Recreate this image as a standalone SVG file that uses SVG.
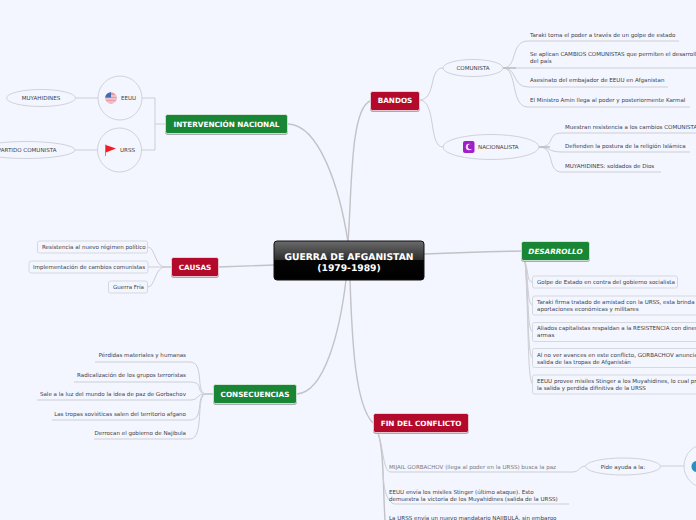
<svg xmlns="http://www.w3.org/2000/svg" width="696" height="520" viewBox="0 0 696 520">
<style>
text{font-family:"DejaVu Sans",Verdana,sans-serif;fill:#3c3c46;font-size:5.55px;text-rendering:geometricPrecision}
.t{font-weight:bold;fill:#fff;font-size:7.25px;text-anchor:middle}
.c{fill:none;stroke:#cdcdd3;stroke-width:1}
.m{fill:none;stroke:#c2c2c7;stroke-width:1.4}
.s{filter:drop-shadow(0 1px .6px #a0a0ac)}
.red{fill:#b30a2c;stroke:#f3e4e8;stroke-width:.8}
.grn{fill:#188635;stroke:#e4f1e7;stroke-width:.8}
.b{fill:#f3f6ff;stroke:#d6d8df;stroke-width:1}
.e{fill:#f3f6ff;stroke:#d0d2d9;stroke-width:1}
.e2{text-anchor:end}
</style>
<defs>
<linearGradient id="g" x1="0" y1="0" x2="0" y2="1"><stop offset="0" stop-color="#6b6b6b"/><stop offset=".5" stop-color="#2b2b2b"/><stop offset=".5" stop-color="#050505"/><stop offset="1" stop-color="#000"/></linearGradient>
</defs>
<rect width="696" height="520" fill="#f3f6ff"/>
<g id="connectors">
<path class="m" d="M348 242C340 190 320 125 288 124"/>
<path class="m" d="M348 242C352 190 350 110 370 101"/>
<path class="m" d="M274 265Q245 266 218 267"/>
<path class="m" d="M424 254Q470 252 521 251"/>
<path class="m" d="M346 280C340 330 325 392 297 394"/>
<path class="m" d="M350 280C352 340 355 405 373 423"/>
<path class="c" d="M419 100C437 100 428 68 443 68"/>
<path class="c" d="M419 100C437 100 428 147 443 147"/>
<path class="c" d="M503 68C518 68 510 41 528 41H679"/>
<path class="c" d="M503 68H696"/>
<path class="c" d="M503 68C518 68 512 87 528 87H668"/>
<path class="c" d="M503 68C518 68 510 107 528 107H690"/>
<path class="c" d="M539 147C556 147 546 133 562 133H696"/>
<path class="c" d="M539 147C550 147 548 152 562 152H690"/>
<path class="c" d="M539 147C556 147 546 172 562 172H661"/>
<path d="M503 68H516M539 147H550" stroke="#bdbdc2" stroke-width="1.5" fill="none"/>
<path class="c" d="M165 124H155V98H142M155 124V150H141"/>
<path class="c" d="M98 98H75M97 150H74"/>
<path class="c" d="M171 267H165C155 267 155 247 148 247"/>
<path class="c" d="M171 267H148"/>
<path class="c" d="M171 267H165C155 267 155 287 148 287"/>
<path class="c" d="M213 394H206C195 394 205 362 190 362H95"/>
<path class="c" d="M213 394H206C195 394 205 382 190 382H74"/>
<path class="c" d="M213 394H206C195 394 200 400 190 400H37"/>
<path class="c" d="M213 394H206C195 394 205 420 190 420H52"/>
<path class="c" d="M213 394H206C195 394 205 439 190 439H94"/>
<path class="c" d="M525 261C529 275 527 282 533 282"/>
<path class="c" d="M525 261C529 285 527 305 533 305"/>
<path class="c" d="M525 261C529 295 527 332 533 332"/>
<path class="c" d="M525 261C529 305 527 358 533 358"/>
<path class="c" d="M525 261C529 315 527 384 533 384"/>
<path class="m" d="M378 433C384 450 383 490 385 520"/>
<path class="c" d="M378 433C384 450 383 472 391 472H572C580 472 578 467 585 466"/>
<path class="c" d="M383 470C383 495 390 504 395 504H569"/>
<path class="c" d="M660 466H684"/>
</g>
<g id="root"><rect x="274" y="241" width="150" height="39" rx="3" fill="url(#g)" stroke="#111"/><text class="t" x="349" y="259.500" style="font-size:9.2px">GUERRA DE AFGANISTAN</text><text class="t" x="349" y="270.500" style="font-size:9.2px">(1979-1989)</text></g>
<g id="n-bandos"><rect class="red s" x="370.500" y="91.500" width="49" height="19" rx="2"/><text class="t" x="395" y="103">BANDOS</text></g>
<g id="n-intervencion"><rect class="grn s" x="165.500" y="114.500" width="122" height="19" rx="2"/><text class="t" x="226.500" y="127">INTERVENCIÓN NACIONAL</text></g>
<g id="n-causas"><rect class="red s" x="171.500" y="257.500" width="47" height="19" rx="2"/><text class="t" x="195" y="270">CAUSAS</text></g>
<g id="n-consecuencias"><rect class="grn s" x="213.500" y="384.500" width="83" height="19" rx="2"/><text class="t" x="255" y="397">CONSECUENCIAS</text></g>
<g id="n-desarrollo"><rect class="grn s" x="521.500" y="241.500" width="68" height="19" rx="2"/><text class="t" x="555.500" y="253.500" style="font-style:italic">DESARROLLO</text></g>
<g id="n-fin"><rect class="red s" x="373.500" y="413.500" width="95" height="19" rx="2"/><text class="t" x="421" y="425.500">FIN DEL CONFLICTO</text></g>
<g id="n-comunista"><ellipse class="e" cx="473" cy="68" rx="30" ry="8.500"/><text x="473" y="70" text-anchor="middle">COMUNISTA</text></g>
<g id="n-nacionalista"><ellipse class="e" cx="491" cy="147" rx="48" ry="12.500"/><rect x="463" y="141" width="11.500" height="12" rx="2" fill="#a020c8"/><circle cx="469" cy="147" r="3.200" fill="#f3e0fa"/><circle cx="470.500" cy="146.500" r="2.600" fill="#a020c8"/><text x="478" y="149">NACIONALISTA</text></g>
<g id="n-eeuu"><circle class="e" cx="120" cy="98" r="22"/><circle cx="111" cy="98" r="5.800" fill="#e59aa5"/><path d="M105.500 96h11M105.500 99h11M106 102h10" stroke="#f6e6ea" stroke-width="1"/><path d="M111 92.200a5.800 5.800 0 0 0-5.800 5.300h5.800z" fill="#3f6bb0"/><text x="121" y="100">EEUU</text></g>
<g id="n-urss"><circle class="e" cx="119.500" cy="150" r="22"/><path d="M105.500 144.500V156" stroke="#b98a8a"/><path d="M105.800 145L116 148.500 105.800 152.500z" fill="#ef1c24"/><text x="120" y="152">URSS</text></g>
<g id="n-muyahidines"><ellipse class="e" cx="41" cy="98" rx="34.500" ry="8.500"/><text x="41" y="100" text-anchor="middle">MUYAHIDINES</text></g>
<g id="n-partido"><ellipse class="e" cx="26" cy="150" rx="49" ry="8.500"/><text x="56.500" y="152" class="e2">PARTIDO COMUNISTA</text></g>
<g id="b-bandos1"><text x="530" y="37">Taraki toma el poder a través de un golpe de estado</text></g>
<g id="b-bandos2"><text x="530" y="56">Se aplican CAMBIOS COMUNISTAS que permiten el desarrollo</text><text x="530" y="63">del país</text></g>
<g id="b-bandos3"><text x="530" y="82">Asesinato del embajador de EEUU en Afganistan</text></g>
<g id="b-bandos4"><text x="530" y="102">El Ministro Amin llega al poder y posteriormente Karmal</text></g>
<g id="b-nac1"><text x="565" y="129">Muestran resistencia a los cambios COMUNISTAS</text></g>
<g id="b-nac2"><text x="565" y="148">Defienden la postura de la religión Islámica</text></g>
<g id="b-nac3"><text x="565" y="168">MUYAHIDINES: soldados de Dios</text></g>
<g id="b-causa1"><rect class="b" x="37.500" y="241" width="110" height="12" rx="2"/><text x="42" y="249">Resistencia al nuevo régimen político</text></g>
<g id="b-causa2"><rect class="b" x="29" y="261" width="119" height="12" rx="2"/><text x="33" y="269">Implementación de cambios comunistas</text></g>
<g id="b-causa3"><rect class="b" x="108.500" y="281" width="39" height="12" rx="2"/><text x="113" y="289">Guerra Fría</text></g>
<g id="b-con1"><text class="e2" x="186" y="357">Pérdidas materiales y humanas</text></g>
<g id="b-con2"><text class="e2" x="186" y="377">Radicalización de los grupos terroristas</text></g>
<g id="b-con3"><text class="e2" x="186" y="396">Sale a la luz del mundo la idea de paz de Gorbachov</text></g>
<g id="b-con4"><text class="e2" x="186" y="416">Las tropas soviéticas salen del territorio afgano</text></g>
<g id="b-con5"><text class="e2" x="186" y="435">Derrocan el gobierno de Najibula</text></g>
<g id="b-des1"><rect class="b" x="532.500" y="276" width="145" height="12" rx="2"/><text x="537" y="284">Golpe de Estado en contra del gobierno socialista</text></g>
<g id="b-des2"><rect class="b" x="532.500" y="296" width="170" height="19" rx="2"/><text x="537" y="304">Taraki firma tratado de amistad con la URSS, esta brinda</text><text x="537" y="311">aportaciones económicas y militares</text></g>
<g id="b-des3"><rect class="b" x="532.500" y="322.500" width="170" height="19" rx="2"/><text x="537" y="330">Aliados capitalistas respaldan a la RESISTENCIA con dinero y</text><text x="537" y="337">armas</text></g>
<g id="b-des4"><rect class="b" x="532.500" y="348.500" width="170" height="19" rx="2"/><text x="537" y="356.500">Al no ver avances en este conflicto, GORBACHOV anuncia la</text><text x="537" y="363.500">salida de las tropas de Afganistán</text></g>
<g id="b-des5"><rect class="b" x="532.500" y="375" width="170" height="19" rx="2"/><text x="537" y="383">EEUU provee misiles Stinger a los Muyahidines, lo cual provoca</text><text x="537" y="390">la salida y perdida difinitiva de la URSS</text></g>
<g id="b-fin1"><text x="389" y="469" style="fill:#77777c">MIJAIL GORBACHOV (llega al poder en la URSS) busca la paz</text></g>
<g id="b-fin2"><text x="389" y="494">EEUU envía los misiles Stinger (último ataque). Esto</text><text x="389" y="500.500">demuestra la victoria de los Muyahidines (salida de la URSS)</text></g>
<g id="b-fin3"><text x="389" y="520">La URSS envía un nuevo mandatario NAJIBULÁ, sin embargo</text></g>
<g id="n-pide"><ellipse class="e" cx="623" cy="466.500" rx="37.500" ry="8.500"/><text x="623" y="469" text-anchor="middle">Pide ayuda a la:</text></g>
<g id="n-onu"><circle class="e" cx="706" cy="466" r="22"/><circle cx="697" cy="466.500" r="5.500" fill="#2b8fc0"/></g>
</svg>
